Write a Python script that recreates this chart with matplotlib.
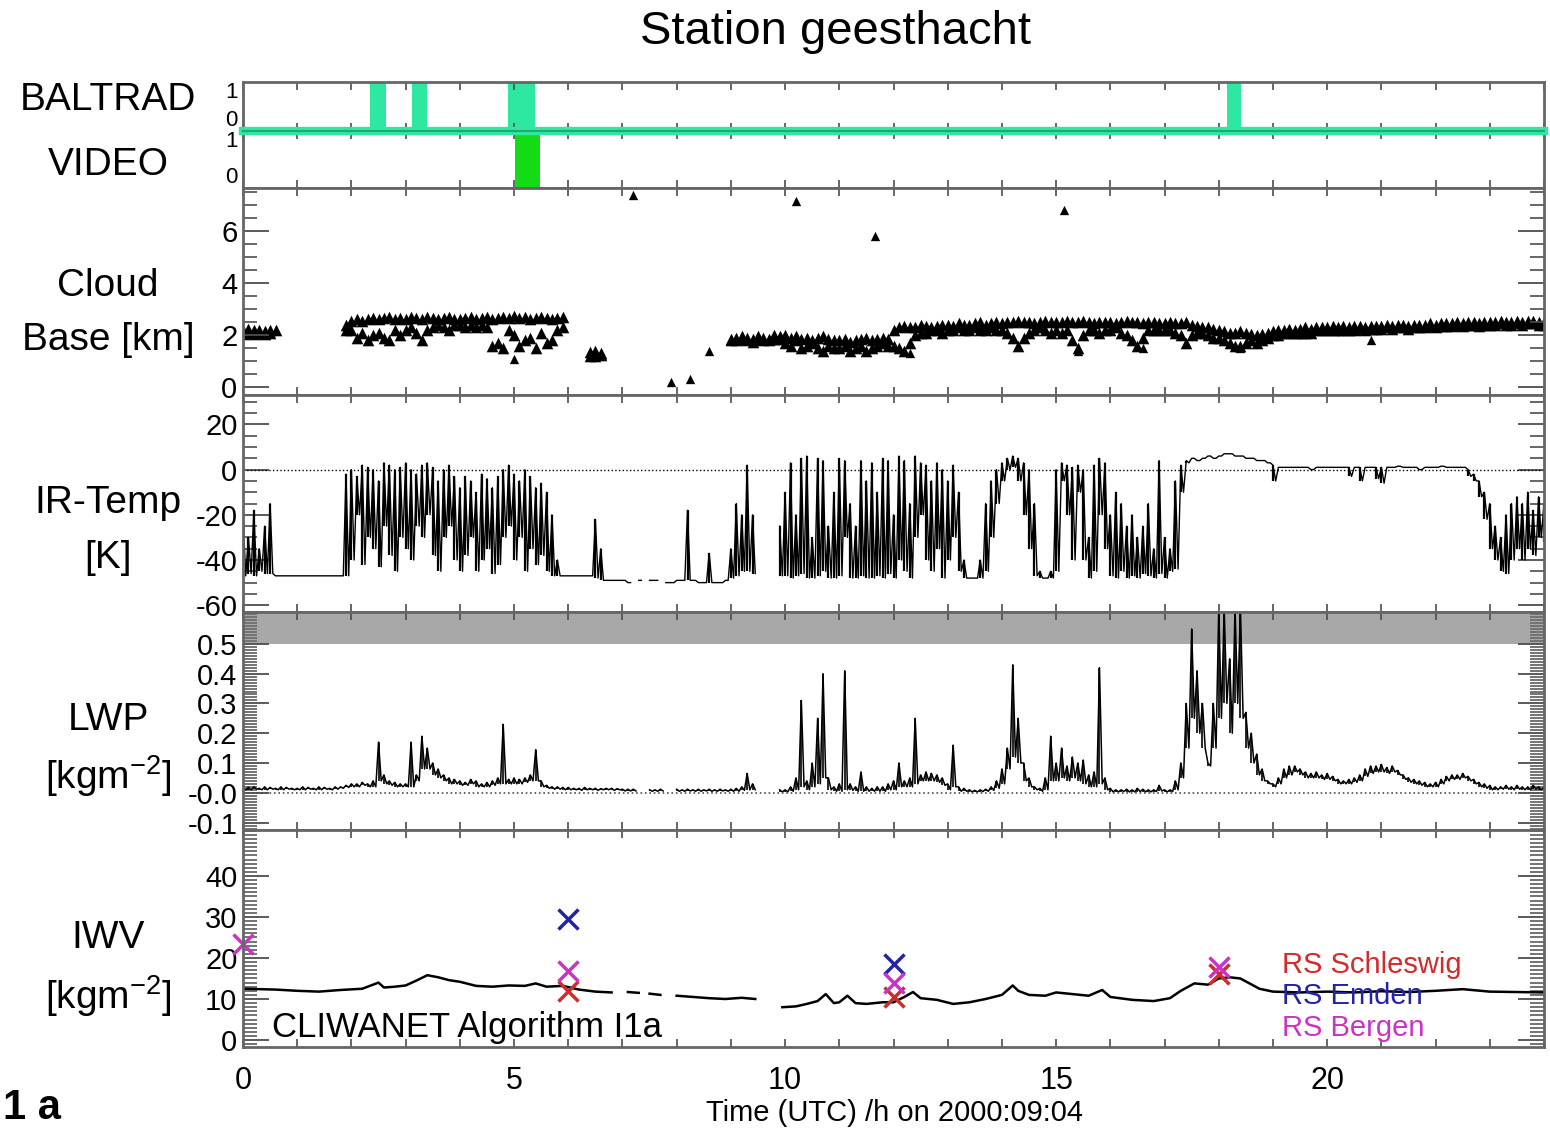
import numpy as np
import matplotlib
matplotlib.use("Agg")
import matplotlib.pyplot as plt
from matplotlib.ticker import MultipleLocator, FixedLocator

plt.rcParams['font.family'] = ['Liberation Sans', 'DejaVu Sans']
plt.rcParams['mathtext.default'] = 'regular'
plt.rcParams['axes.unicode_minus'] = False

n = np.nan

# ---- data ----
t_grid = np.round(np.arange(0, 24.05, 0.1), 2)   # 0.1 h sampling

baltrad_start = [2.34, 3.12, 4.89, 18.15]
baltrad_end = [2.63, 3.39, 5.39, 18.41]
video_start = [5.02]
video_end = [5.48]

# cloud base [km], upper and lower returns per 0.1 h
cb_hi = [2.2, 2.25, 2.2, 2.2, 2.15, 2.2, 2.2, n, n, n,
         n, n, n, n, n, n, n, n, n, 2.4,
         2.55, 2.6, 2.55, 2.6, 2.65, 2.6, 2.65, 2.7, 2.6, 2.65,
         2.6, 2.7, 2.65, 2.6, 2.7, 2.65, 2.6, 2.65, 2.7, 2.6,
         2.6, 2.65, 2.7, 2.6, 2.65, 2.7, 2.6, 2.65, 2.7, 2.65,
         2.75, 2.65, 2.7, 2.6, 2.65, 2.7, 2.65, 2.6, 2.65, 2.7,
         n, n, n, n, 1.35, 1.4, 1.3, n, n, n,
         n, n, n, n, n, n, n, n, n, n,
         n, n, n, n, n, n, n, n, n, n,
         1.85, 1.9, 1.95, 1.9, 1.85, 1.95, 1.9, 1.85, 2.0, 1.95,
         2.0, 1.9, 1.95, 1.85, 1.9, 1.8, 1.9, 1.95, 1.85, 1.8,
         1.8, 1.85, 1.75, 1.8, 1.85, 1.9, 1.8, 1.85, 1.9, 1.85,
         2.2, 2.3, 2.35, 2.3, 2.3, 2.4, 2.35, 2.3, 2.35, 2.4,
         2.4, 2.35, 2.45, 2.4, 2.4, 2.45, 2.5, 2.4, 2.45, 2.5,
         2.45, 2.5, 2.5, 2.55, 2.5, 2.5, 2.45, 2.5, 2.55, 2.5,
         2.5, 2.5, 2.55, 2.5, 2.5, 2.55, 2.5, 2.45, 2.5, 2.5,
         2.5, 2.45, 2.5, 2.55, 2.5, 2.5, 2.45, 2.5, 2.5, 2.45,
         2.45, 2.5, 2.45, 2.45, 2.5, 2.4, 2.35, 2.3, 2.3, 2.25,
         2.2, 2.15, 2.1, 2.1, 2.15, 2.1, 2.05, 2.0, 2.05, 2.1,
         2.15, 2.2, 2.2, 2.25, 2.2, 2.25, 2.3, 2.25, 2.3, 2.3,
         2.3, 2.35, 2.3, 2.35, 2.3, 2.35, 2.35, 2.3, 2.35, 2.35,
         2.35, 2.4, 2.35, 2.4, 2.4, 2.35, 2.4, 2.4, 2.4, 2.45,
         2.4, 2.45, 2.45, 2.45, 2.5, 2.45, 2.5, 2.5, 2.45, 2.5,
         2.5, 2.5, 2.55, 2.5, 2.5, 2.55, 2.5, 2.55, 2.55, 2.5,
         2.5]
cb_lo = [2.05, 2.1, 2.05, 2.1, 2.05, 2.1, n, n, n, n,
         n, n, n, n, n, n, n, n, n, 2.2,
         2.2, 1.9, 2.1, 1.8, 2.0, 2.1, 1.9, 1.8, 2.2, 2.0,
         2.2, 2.3, 2.1, 1.8, 2.2, 2.3, 2.4, 2.3, 2.2, 2.4,
         2.4, 2.3, 2.4, 2.3, 2.4, 2.3, 1.6, 1.7, 1.5, 2.2,
         2.0, 1.6, 1.8, 1.9, 1.5, 2.1, 1.7, 1.8, 2.2, 2.3,
         n, n, n, n, 1.2, 1.2, 1.25, n, n, n,
         n, n, n, n, n, n, n, n, n, n,
         n, n, n, n, n, n, n, n, n, n,
         1.8, 1.8, 1.85, 1.8, 1.75, 1.85, 1.8, 1.8, 1.85, 1.85,
         1.7, 1.6, 1.8, 1.5, 1.6, 1.7, 1.5, 1.4, 1.6, 1.5,
         1.5, 1.6, 1.4, 1.5, 1.6, 1.4, 1.5, 1.6, 1.7, 1.6,
         1.6, 1.5, 1.4, 1.7, 2.0, 2.1, 2.1, 2.2, 2.2, 2.1,
         2.2, 2.2, 2.3, 2.2, 2.2, 2.3, 2.2, 2.2, 2.3, 2.2,
         2.2, 2.1, 1.9, 1.6, 1.9, 2.1, 2.2, 2.3, 2.2, 2.1,
         2.2, 2.1, 2.2, 1.8, 1.5, 2.0, 2.2, 2.2, 2.1, 2.2,
         2.2, 2.3, 2.1, 2.0, 1.8, 1.6, 1.9, 2.2, 2.2, 2.2,
         2.2, 2.2, 2.1, 2.0, 1.7, 2.0, 2.1, 2.1, 2.0, 1.9,
         1.9, 1.8, 1.7, 1.6, 1.6, 1.7, 1.8, 1.7, 1.8, 1.9,
         2.0, 2.0, 2.1, 2.1, 2.1, 2.1, 2.1, 2.1, 2.2, 2.2,
         2.2, 2.2, 2.2, 2.2, 2.2, 2.2, 2.25, 2.2, 2.25, 2.25,
         2.25, 2.3, 2.25, 2.3, 2.3, 2.25, 2.3, 2.3, 2.3, 2.35,
         2.3, 2.35, 2.35, 2.35, 2.4, 2.35, 2.4, 2.4, 2.35, 2.4,
         2.4, 2.4, 2.45, 2.4, 2.4, 2.45, 2.4, 2.45, 2.45, 2.4,
         2.4]
cb_ext_t = [7.2, 10.2, 11.65, 15.15, 7.9, 8.25, 8.6, 20.8, 12.3, 15.4, 16.6, 18.4, 5.0]
cb_ext_h = [7.4, 7.15, 5.8, 6.8, 0.2, 0.3, 1.4, 1.8, 1.3, 1.4, 1.5, 1.5, 1.1]

# IR temperature [K], max / min per 0.1 h
ir_hi = [-20, -30, -18, -35, -25, -15, -47, -47, -47, -47,
         -47, -47, -47, -47, -47, -47, -47, -47, -47, -2,
         0, -3, 2, 1, 0, -5, 3, 2, 0, 1,
         3, 0, -2, 2, 3, 1, -5, 0, 2, -3,
         -8, -3, -5, -10, -2, -4, -8, -3, 0, 2,
         -2, -5, 0, -3, -8, -6, -10, -20, -40, -47,
         -47, -47, -47, -47, -47, -22, -35, -49, -49, -49,
         -49, -50, n, -49, n, -49, -49, n, -50, -50,
         -49, -49, -18, -49, -50, -50, -37, -50, -50, -49,
         -35, -15, -20, 2, -20, n, n, n, n, -25,
         -10, 3, -20, 5, 6, -30, 5, 4, -25, -10,
         5, 4, -15, -25, 4, -5, 3, -10, 5, 4,
         -20, 6, 4, -15, 6, 3, 2, -5, 3, 0,
         -5, 2, -10, -40, -48, -48, -40, -15, -5, 0,
         3, 5, 6, 5, 3, 0, -15, -45, -48, -45,
         0, 3, 2, 1, 2, 0, -30, 2, 5, 3,
         -20, -10, -15, -25, -20, -30, -25, -15, -35, 4,
         -30, -35, -5, 2, 4, 5, 4, 5, 6, 5,
         6, 7, 7, 6, 6, 5, 5, 4, 4, 3,
         2, 1, 1, 1, 1, 1, 1, 0, 1, 1,
         1, 1, 1, 1, 1, 1, 1, 1, 1, 1,
         1, 1, 1, 1.5, 1, 1, 1, 0, 1, 1,
         1, 1.5, 1, 1, 1, 1, 0, -2, -5, -10,
         -15, -25, -30, -20, -15, -12, -15, -10, -18, -12,
         -15]
ir_lo = [-47, -46, -47, -45, -46, -46, -47, -47, -47, -47,
         -47, -47, -47, -47, -47, -47, -47, -47, -47, -47,
         -40, -20, -42, -30, -35, -43, -25, -38, -45, -30,
         -35, -40, -25, -30, -20, -38, -45, -30, -25, -40,
         -45, -38, -30, -45, -40, -35, -46, -42, -30, -25,
         -40, -30, -45, -35, -42, -38, -45, -47, -47, -47,
         -47, -47, -47, -47, -47, -48, -49, -49, -49, -49,
         -49, -50, n, -49, n, -49, -49, n, -50, -50,
         -49, -49, -49, -49, -50, -50, -50, -50, -50, -49,
         -48, -47, -45, -45, -46, n, n, n, n, -47,
         -47, -48, -47, -46, -48, -48, -47, -45, -48, -48,
         -47, -30, -48, -48, -47, -48, -48, -47, -48, -46,
         -48, -40, -45, -48, -30, -20, -40, -45, -35, -48,
         -40, -30, -45, -48, -48, -48, -48, -45, -30, -15,
         -5, 0, 1, -5, -20, -35, -47, -48, -48, -48,
         -45, -5, -20, -40, -10, -40, -48, -45, -20, -35,
         -47, -48, -45, -48, -47, -48, -46, -47, -48, -46,
         -48, -45, -44, -10, 3, 5, 4, 5, 6, 5,
         6, 7, 7, 6, 6, 5, 5, 4, 4, 3,
         -5, 1, 1, 1, 1, 1, 1, 0, 1, 1,
         1, 1, 1, 1, -3, 1, -5, 1, 1, -4,
         -6, 1, 1, 1.5, 1, 1, 1, 0, 1, 1,
         1, 1.5, 1, 1, 1, 1, -3, -5, -12, -22,
         -35, -40, -45, -46, -40, -35, -40, -35, -38, -30,
         -32]

# liquid water path [kg m-2], max / min per 0.1 h
lwp_hi = [0.02, 0.018, 0.02, 0.015, 0.02, 0.018, 0.015, 0.02, 0.018, 0.015,
          0.015, 0.02, 0.018, 0.015, 0.02, 0.018, 0.015, 0.02, 0.02, 0.025,
          0.03, 0.03, 0.035, 0.03, 0.04, 0.17, 0.06, 0.04, 0.035, 0.03,
          0.03, 0.17, 0.06, 0.19, 0.15, 0.1, 0.08, 0.06, 0.05, 0.045,
          0.04, 0.035, 0.045, 0.04, 0.03, 0.035, 0.04, 0.05, 0.23, 0.045,
          0.05, 0.045, 0.05, 0.06, 0.145, 0.04, 0.025, 0.02, 0.02, 0.018,
          0.018, 0.015, 0.015, 0.018, 0.015, 0.015, 0.014, 0.015, 0.015, 0.014,
          0.012, 0.012, 0.012, n, n, 0.01, 0.01, 0.012, n, n,
          0.012, 0.01, 0.012, 0.01, 0.012, 0.01, 0.012, 0.01, 0.012, 0.01,
          0.012, 0.015, 0.02, 0.065, 0.03, n, n, n, n, 0.01,
          0.01, 0.02, 0.05, 0.31, 0.04, 0.1, 0.25, 0.40, 0.05, 0.02,
          0.03, 0.41, 0.03, 0.02, 0.07, 0.02, 0.015, 0.02, 0.02, 0.03,
          0.04, 0.10, 0.04, 0.05, 0.25, 0.06, 0.07, 0.065, 0.06, 0.05,
          0.03, 0.16, 0.02, 0.015, 0.01, 0.008, 0.01, 0.012, 0.02, 0.04,
          0.08, 0.15, 0.43, 0.25, 0.1, 0.05, 0.02, 0.015, 0.05, 0.19,
          0.1, 0.15, 0.09, 0.12, 0.1, 0.11, 0.06, 0.07, 0.42, 0.05,
          0.015, 0.01, 0.01, 0.012, 0.01, 0.015, 0.012, 0.01, 0.01, 0.025,
          0.01, 0.01, 0.04, 0.1, 0.3, 0.55, 0.41, 0.3, 0.1, 0.3,
          0.62, 0.62, 0.45, 0.62, 0.62, 0.27, 0.2, 0.13, 0.08, 0.04,
          0.03, 0.05, 0.08, 0.09, 0.09, 0.08, 0.07, 0.065, 0.07, 0.06,
          0.065, 0.055, 0.045, 0.04, 0.045, 0.05, 0.06, 0.08, 0.09, 0.09,
          0.095, 0.085, 0.09, 0.075, 0.06, 0.05, 0.045, 0.04, 0.035, 0.03,
          0.035, 0.045, 0.055, 0.06, 0.06, 0.065, 0.055, 0.045, 0.035, 0.03,
          0.025, 0.02, 0.02, 0.025, 0.02, 0.025, 0.02, 0.02, 0.025, 0.02,
          0.02]
lwp_lo = [0.01, 0.01, 0.012, 0.01, 0.01, 0.012, 0.01, 0.01, 0.012, 0.01,
          0.01, 0.01, 0.012, 0.01, 0.01, 0.012, 0.01, 0.012, 0.015, 0.018,
          0.02, 0.02, 0.025, 0.02, 0.02, 0.04, 0.03, 0.025, 0.02, 0.02,
          0.02, 0.02, 0.04, 0.08, 0.08, 0.06, 0.05, 0.04, 0.03, 0.03,
          0.025, 0.025, 0.03, 0.02, 0.02, 0.02, 0.025, 0.03, 0.03, 0.03,
          0.03, 0.03, 0.035, 0.04, 0.04, 0.02, 0.015, 0.012, 0.012, 0.01,
          0.01, 0.01, 0.008, 0.01, 0.01, 0.008, 0.01, 0.01, 0.008, 0.01,
          0.006, 0.006, 0.006, n, n, 0.005, 0.005, 0.006, n, n,
          0.005, 0.005, 0.006, 0.005, 0.005, 0.006, 0.005, 0.005, 0.006, 0.005,
          0.005, 0.005, 0.008, 0.01, 0.01, n, n, n, n, 0.003,
          0.003, 0.005, 0.01, 0.02, 0.01, 0.02, 0.03, 0.05, 0.01, 0.005,
          0.005, 0.01, 0.008, 0.005, 0.005, 0.005, 0.005, 0.005, 0.005, 0.01,
          0.01, 0.02, 0.02, 0.02, 0.03, 0.04, 0.04, 0.04, 0.035, 0.025,
          0.01, 0.02, 0.005, 0.005, 0.003, 0.003, 0.004, 0.005, 0.008, 0.015,
          0.03, 0.08, 0.12, 0.1, 0.04, 0.02, 0.01, 0.005, 0.01, 0.04,
          0.04, 0.05, 0.04, 0.05, 0.04, 0.03, 0.02, 0.02, 0.03, 0.01,
          0.003, 0.003, 0.004, 0.003, 0.003, 0.004, 0.003, 0.003, 0.004, 0.006,
          0.003, 0.004, 0.01, 0.05, 0.15, 0.25, 0.2, 0.15, 0.09, 0.15,
          0.25, 0.3, 0.2, 0.3, 0.25, 0.15, 0.1, 0.06, 0.04, 0.03,
          0.02, 0.03, 0.05, 0.06, 0.07, 0.06, 0.05, 0.05, 0.05, 0.045,
          0.045, 0.04, 0.03, 0.03, 0.03, 0.035, 0.04, 0.055, 0.065, 0.07,
          0.07, 0.065, 0.07, 0.06, 0.045, 0.035, 0.03, 0.025, 0.02, 0.02,
          0.02, 0.03, 0.04, 0.045, 0.045, 0.05, 0.04, 0.03, 0.02, 0.015,
          0.01, 0.01, 0.012, 0.012, 0.01, 0.012, 0.01, 0.01, 0.012, 0.01,
          0.01]

# integrated water vapour [kg m-2]
iwv_t = [0, 0.3, 0.6, 1.0, 1.4, 1.8, 2.2, 2.5, 2.6, 2.8, 3.0, 3.2, 3.4, 3.6,
         3.8, 4.0, 4.3, 4.6, 4.9, 5.2, 5.4, 5.6, 5.9, 6.2, 6.5, 6.8, 6.95,
         7.1, 7.3, 7.4, 7.5, 7.7, 7.85, 8.0, 8.3, 8.6, 8.9, 9.2, 9.45, 9.7,
         9.95, 10.2, 10.4, 10.6, 10.75, 10.9, 11.0, 11.15, 11.3, 11.5, 11.8,
         12.0, 12.2, 12.36, 12.5, 12.8, 13.1, 13.4, 13.7, 14.0, 14.2, 14.3,
         14.5, 14.8, 15.0, 15.3, 15.6, 15.85, 16.0, 16.4, 16.8, 17.1, 17.3,
         17.55, 17.8, 18.0, 18.2, 18.4, 18.75, 19.0, 19.5, 20.0, 20.5, 21.0,
         21.5, 22.0, 22.5, 23.0, 23.5, 24.0]
iwv_v = [12.5, 12.4, 12.3, 12.0, 11.8, 12.2, 12.5, 14.0, 12.8, 13.0, 13.3,
         14.5, 15.8, 15.3, 14.6, 14.2, 13.2, 13.0, 13.3, 13.2, 13.8, 13.0,
         13.2, 12.3, 11.8, 11.6, n, 11.7, 11.5, n, 11.3, 11.0, n, 10.8, 10.5,
         10.2, 10.0, 10.3, 10.0, n, 8.0, 8.2, 8.8, 9.5, 11.2, 9.0, 9.2, 10.8,
         9.0, 8.8, 9.2, 9.2, 10.5, 11.7, 10.2, 9.8, 8.8, 9.2, 10.0, 11.0,
         13.3, 12.0, 11.0, 10.8, 11.6, 11.2, 10.8, 12.2, 10.5, 9.8, 9.5,
         10.2, 12.0, 13.8, 13.5, 15.0, 15.3, 15.0, 12.5, 11.8, 11.6, 11.8,
         11.6, 11.9, 11.7, 12.0, 12.4, 11.8, 11.7, 11.6]

rs_sch_t = [6, 12, 18]
rs_sch_v = [12.0, 10.5, 16.0]
rs_emd_t = [6, 12]
rs_emd_v = [29.5, 18.5]
rs_ber_t = [0, 6, 12, 18]
rs_ber_v = [23.5, 16.8, 14.0, 17.8]

# ---- figure ----
W, H = 1550, 1133
fig = plt.figure(figsize=(W / 100, H / 100), dpi=100)
X0, X1 = 243, 1544


def add_panel(top, bot):
    return fig.add_axes([X0 / W, 1 - bot / H, (X1 - X0) / W, (bot - top) / H])


def style(ax, ymaj=None, ymin=None, mlen=19, nlen=10, ncol='0.3', nwid=1.2,
          lsize=21):
    ax.set_xlim(0, 24)
    ax.xaxis.set_major_locator(MultipleLocator(5))
    ax.xaxis.set_minor_locator(MultipleLocator(1))
    ax.tick_params(axis='x', which='both', direction='in', top=True,
                   bottom=True, length=6, width=1.2, color='0.3',
                   labelbottom=False)
    if ymaj is not None:
        ax.yaxis.set_major_locator(ymaj)
    if ymin is not None:
        ax.yaxis.set_minor_locator(ymin)
        ax.tick_params(axis='y', which='minor', direction='in', left=True,
                       right=True, length=nlen, width=nwid, color=ncol)
    ax.tick_params(axis='y', which='major', direction='in', left=True,
                   right=True, length=mlen, width=1.3, color='0.3',
                   labelsize=lsize, pad=4)
    for s in ax.spines.values():
        s.set_linewidth(2)
        s.set_color('0.4')


ax_v = add_panel(131, 188)
ax_b = add_panel(82, 131)
ax_c = add_panel(188, 395)
ax_ir = add_panel(395, 612)
ax_l = add_panel(612, 830)
ax_w = add_panel(830, 1047)
ax_b.set_zorder(5)

# BALTRAD
for s, e in zip(baltrad_start, baltrad_end):
    ax_b.bar(s, 1, width=e - s, align='edge', color='#2ee8a2', lw=0)
ax_b.axhline(0, color='#2ee8a2', lw=6, clip_on=False, zorder=6)
ax_b.axhline(0, color='#1fa978', lw=1.5, clip_on=False, zorder=6)
ax_b.set_ylim(0, 1)
style(ax_b, mlen=0, lsize=16)

# VIDEO
for s, e in zip(video_start, video_end):
    ax_v.bar(s, 1, width=e - s, align='edge', color='#14dc14', lw=0)
ax_v.set_ylim(0, 1)
style(ax_v, mlen=0, lsize=16)

for ax in (ax_b, ax_v):
    ax.set_yticks([0, 1], ['0', '1'])
    lab = ax.get_yticklabels()
    lab[0].set_va('bottom')
    lab[1].set_va('top')

# cloud base
ax_c.scatter(t_grid, cb_hi, marker='^', s=70, c='k', lw=0)
ax_c.scatter(t_grid, cb_lo, marker='^', s=70, c='k', lw=0)
ax_c.scatter(cb_ext_t, cb_ext_h, marker='^', s=45, c='k', lw=0)
ax_c.set_ylim(-0.3, 7.65)
style(ax_c, MultipleLocator(2), MultipleLocator(0.5))


def zigzag(t, hi, lo):
    t = np.asarray(t, float)
    tt = np.empty(2 * len(t))
    yy = np.empty(2 * len(t))
    tt[0::2] = t
    tt[1::2] = t + 0.05
    yy[0::2] = hi
    yy[1::2] = lo
    return tt, yy


# IR temperature
tt, yy = zigzag(t_grid, ir_hi, ir_lo)
ax_ir.plot(tt, yy, color='k', lw=1.0)
ax_ir.vlines(t_grid, ir_lo, ir_hi, color='k', lw=1.6)
ax_ir.axhline(0, color='k', ls=':', lw=1.0)
ax_ir.set_ylim(-63, 33)
style(ax_ir, MultipleLocator(20), MultipleLocator(5))

# LWP
ax_l.axhspan(0.5, 1.0, color='#a8a8a8', lw=0, zorder=0)
tt, yy = zigzag(t_grid, lwp_hi, lwp_lo)
ax_l.plot(tt, yy, color='k', lw=1.1)
ax_l.vlines(t_grid, lwp_lo, lwp_hi, color='k', lw=1.2)
ax_l.axhline(0, color='0.3', ls=':', lw=1.2)
ax_l.set_ylim(-0.125, 0.607)
style(ax_l, FixedLocator([-0.1, 0, 0.1, 0.2, 0.3, 0.4, 0.5]),
      MultipleLocator(0.01), nlen=10, ncol='0.45', nwid=1.4)
ax_l.set_yticklabels(['-0.1', '-0.0', '0.1', '0.2', '0.3', '0.4', '0.5'])

# IWV
ax_w.plot(iwv_t, iwv_v, color='k', lw=1.8)
ax_w.plot(rs_sch_t, rs_sch_v, ls='none', marker='x', ms=15, mew=2.5,
          color='#d42a2a')
ax_w.plot(rs_emd_t, rs_emd_v, ls='none', marker='x', ms=15, mew=2.5,
          color='#2323a8')
ax_w.plot(rs_ber_t, rs_ber_v, ls='none', marker='x', ms=15, mew=2.5,
          color='#cc33c4', clip_on=False)
ax_w.set_ylim(-1.7, 51.2)
style(ax_w, FixedLocator([0, 10, 20, 30, 40]), MultipleLocator(1),
      nlen=10, ncol='0.45', nwid=1.4)
ax_w.tick_params(axis='x', which='major', labelbottom=True, labelsize=22,
                 pad=14)
ax_w.text(0.022, 0.09, 'CLIWANET Algorithm I1a', transform=ax_w.transAxes,
          fontsize=25, va='center', ha='left')
ax_w.text(0.799, 0.378, 'RS Schleswig', transform=ax_w.transAxes,
          fontsize=21, color='#d42a2a', va='center')
ax_w.text(0.799, 0.235, 'RS Emden', transform=ax_w.transAxes,
          fontsize=21, color='#2323a8', va='center')
ax_w.text(0.799, 0.088, 'RS Bergen', transform=ax_w.transAxes,
          fontsize=21, color='#cc33c4', va='center')

# panel names
names = [('BALTRAD', 100), ('VIDEO', 165), ('Cloud', 286), ('Base [km]', 340),
         ('IR-Temp', 503), ('[K]', 558), ('LWP', 720),
         ('[kgm$^{-2}$]', 776), ('IWV', 938), ('[kgm$^{-2}$]', 996)]
for label, y in names:
    fig.text(108 / W, 1 - y / H, label, fontsize=28, ha='center', va='center')

fig.text(835 / W, 1 - 32 / H, 'Station geesthacht', fontsize=34,
         ha='center', va='center')
fig.text(895 / W, 1 - 1113 / H, 'Time (UTC) /h on 2000:09:04', fontsize=21,
         ha='center', va='center')
fig.text(0.002, 0.004, '1 a', fontsize=30, fontweight='bold',
         ha='left', va='bottom')

fig.savefig('out.png', dpi=100)
